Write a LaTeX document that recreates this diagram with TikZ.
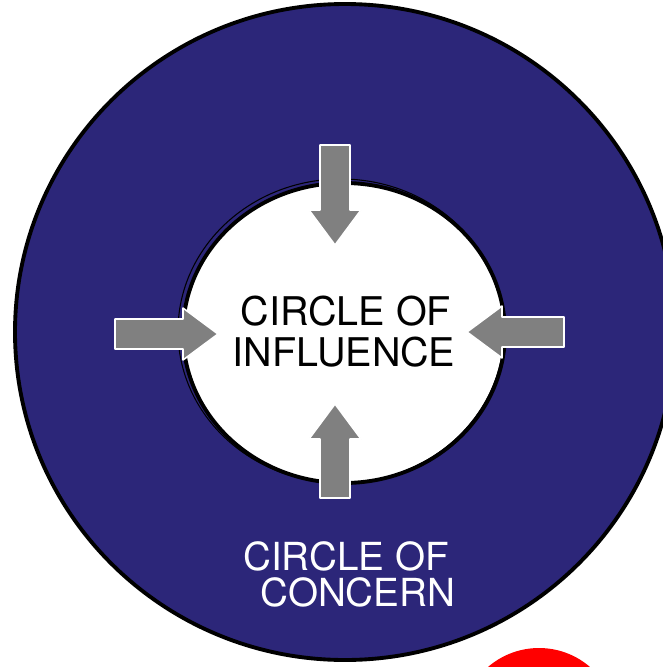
\documentclass[tikz,border=0pt]{standalone}
\usepackage{fontspec}
\setmainfont{TeX Gyre Heros}
\usepackage{xcolor}
\usetikzlibrary{positioning}

\definecolor{concernblue}{RGB}{44,38,121}
\definecolor{arrowgray}{RGB}{128,128,128}

\begin{document}
\begin{tikzpicture}[
    x=0.02cm, y=-0.02cm,
    rim/.style={draw=black, line width=2.2pt},
    inarrow/.style={fill=arrowgray, draw=white, line width=0.9pt, line join=round},
    influence/.style={font=\fontsize{22.5}{24}\selectfont, anchor=base, text=black, inner sep=0pt},
    concern/.style={font=\fontsize{22}{24}\selectfont, anchor=base, text=white, inner sep=0pt}
]
    \useasboundingbox (0,0) rectangle (663,667);
    \clip (0,0) rectangle (663,667);
    \fill[white] (0,0) rectangle (663,667);

    % Outer: circle of concern
    \draw[rim, fill=concernblue] (345,332) ellipse [x radius=330, y radius=328];

    % Inner: circle of influence
    \draw[rim, fill=white] (344,333) ellipse [x radius=161, y radius=150];
    \draw[line width=0.6pt] (341,331) ellipse [x radius=163, y radius=152];

    % Arrows pointing in (tip x / tip y / angle / length)
    \foreach \tx/\ty/\ang/\len in {335/245/-90/100, 218/334/0/103, 467/332/180/97, 335/404/90/94}{
        \draw[inarrow, shift={(\tx,\ty)}, rotate=\ang]
            (0,0) -- (-35,26) -- (-35,15) -- (-\len,15) -- (-\len,-15) -- (-35,-15) -- (-35,-26) -- cycle;
    }

    % Labels
    \node[influence] (influence top) at (346,325) {CIRCLE OF};
    \node[influence] (influence bottom) at (344,366) {INFLUENCE};
    \node[concern] (concern top) at (346,570) {CIRCLE OF};
    \node[concern] (concern bottom) at (358,606) {CONCERN};

    % Red circle, bottom right
    \fill[red] (539,726) circle [radius=78];
\end{tikzpicture}
\end{document}
